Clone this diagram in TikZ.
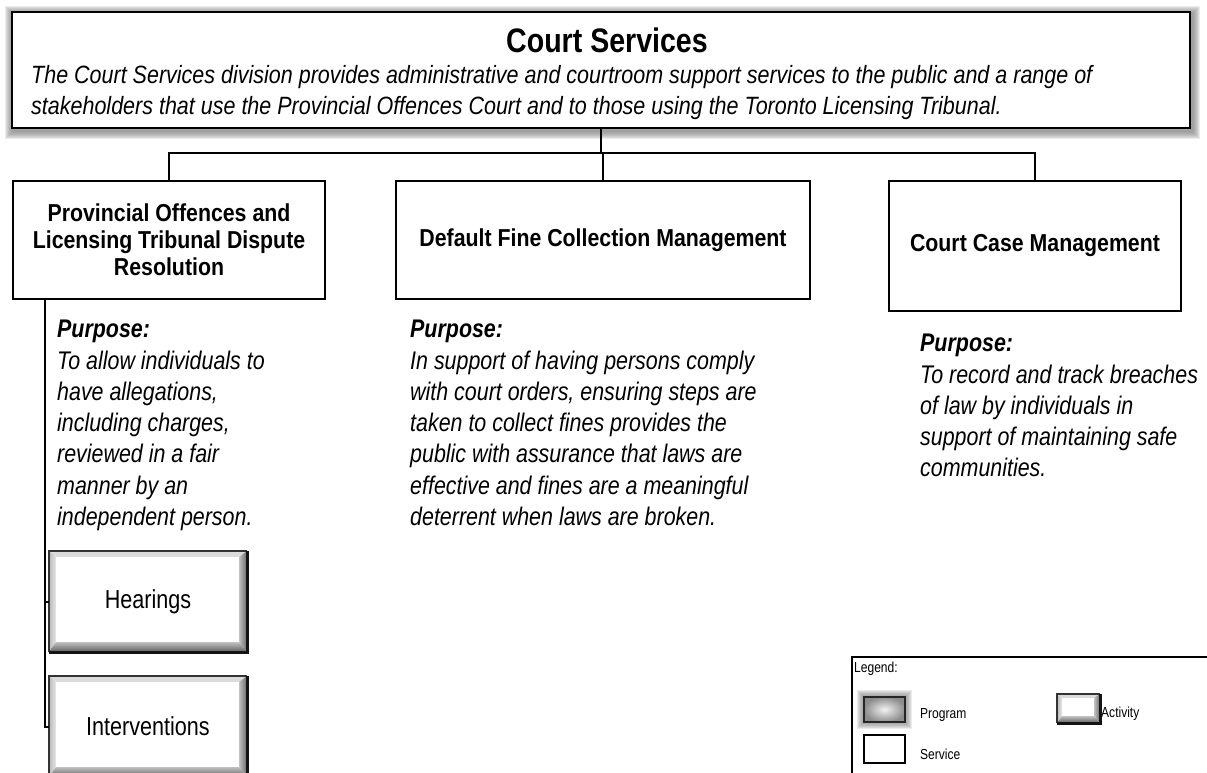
\documentclass[tikz,border=0pt]{standalone}
\usepackage{fontspec}
\setmainfont{Liberation Sans}
\newfontfamily\nar[FakeStretch=0.83]{Liberation Sans}
\newfontfamily\nard[FakeStretch=0.86]{Liberation Sans}
\newfontfamily\narp[FakeStretch=0.84]{Liberation Sans}
\newfontfamily\boxf[FakeStretch=0.87]{Liberation Sans}
\newfontfamily\titf[FakeStretch=0.84]{Liberation Sans}
\usetikzlibrary{calc}
% #1 node, #2 top inset, #3 left, #4 bottom, #5 right
\newcommand\bevelbox[5]{%
  \fill[black!14] (#1.north west) -- (#1.north east) -- ($(#1.north east)+(-#5,#2)$) -- ($(#1.north west)+(#3,#2)$) -- cycle;
  \shade[left color=black!28, right color=black!10] (#1.north west) -- ($(#1.north west)+(#3,#2)$) -- ($(#1.south west)+(#3,-#4)$) -- (#1.south west) -- cycle;
  \shade[top color=black!25, bottom color=black!64] (#1.south west) -- ($(#1.south west)+(#3,-#4)$) -- ($(#1.south east)+(-#5,-#4)$) -- (#1.south east) -- cycle;
  \shade[left color=black!25, right color=black!60] (#1.north east) -- ($(#1.north east)+(-#5,#2)$) -- ($(#1.south east)+(-#5,-#4)$) -- (#1.south east) -- cycle;
  \draw[line width=2.2pt, black!80] (#1.south west) -- (#1.north west) -- (#1.north east);
  \draw[line width=3pt, black!92] (#1.north east) -- (#1.south east) -- (#1.south west);
}
\begin{document}
\begin{tikzpicture}[x=1pt,y=-1pt,
  every node/.style={inner sep=0pt},
  servicebox/.style={draw, line width=2pt, fill=white, align=center,
    font=\boxf\bfseries\fontsize{24.5}{27}\selectfont},
  actbox/.style={minimum width=198pt, minimum height=101pt, fill=white,
    font=\nar\fontsize{26}{28}\selectfont},
  purpose/.style={align=left, anchor=north west,
    font=\narp\itshape\fontsize{25.5}{31.3}\selectfont},
  conn/.style={line width=2pt},
  legtext/.style={anchor=west, font=\nar\fontsize{14.5}{16}\selectfont}]
\useasboundingbox (0,0) rectangle (1207,772);

% top program box with glow (shifted down-right)
\node[minimum width=1178pt, minimum height=116pt] (top) at (601,70) {};
\foreach \k in {1,...,8}
  \draw[gray, opacity=0.16, line width=2*\k pt]
    ($(top.north west)+(1.5,2.5)$) rectangle ($(top.south east)+(1.5,2.5)$);
\fill[white] (top.north west) rectangle (top.south east);
\draw[line width=2.2pt] (top.north west) rectangle (top.south east);
\node[font=\titf\bfseries\fontsize{34}{36}\selectfont] (title) at (607,40) {Court Services};
\node[anchor=north west, align=left, font=\nard\itshape\fontsize{25}{31}\selectfont] (desc) at (31,65)
  {The Court Services division provides administrative and courtroom support services to the public and a range of\\
   stakeholders that use the Provincial Offences Court and to those using the Toronto Licensing Tribunal.};

% services
\node[servicebox, minimum width=312pt, minimum height=118pt] (b1) at (169,240)
  {Provincial Offences and\\Licensing Tribunal Dispute\\Resolution};
\node[servicebox, minimum width=414pt, minimum height=118pt] (b2) at (603,240)
  {Default Fine Collection Management};
\node[servicebox, minimum width=292pt, minimum height=130pt] (b3) at (1035,246)
  {Court Case Management};

\coordinate (bus) at (601,153);
\draw[conn] (top.south) -- (bus);
\draw[conn] (b1.north) |- (bus) -| (b3.north);
\draw[conn] (b2.north) -- (b2.north |- bus);

% purposes
\node[purpose] (p1) at (57,320) {{\bfseries Purpose:}\\To allow individuals to\\have allegations,\\including charges,\\reviewed in a fair\\manner by an\\independent person.};
\node[purpose] (p2) at (410,320) {{\bfseries Purpose:}\\In support of having persons comply\\with court orders, ensuring steps are\\taken to collect fines provides the\\public with assurance that laws are\\effective and fines are a meaningful\\deterrent when laws are broken.};
\node[purpose] (p3) at (920,334) {{\bfseries Purpose:}\\To record and track breaches\\of law by individuals in\\support of maintaining safe\\communities.};

% activities
\node[actbox] (h) at (148,601.5) {Hearings};
\node[actbox] (iv) at (148,726.5) {Interventions};
\bevelbox{h}{6}{7}{10}{8}
\bevelbox{iv}{6}{7}{10}{8}
\coordinate (stem) at (45,299);
\draw[conn] (stem) |- (h.west);
\draw[conn] (stem) |- (iv.west);

% legend
\draw[line width=1.2pt] (852,775) -- (852,657) -- (1210,657);
\node[legtext] (lg) at (854,669) {Legend:};
\node[minimum width=41pt, minimum height=25pt] (prog) at (884.5,709.5) {};
\foreach \k in {1,...,7}
  \draw[gray, opacity=0.16, line width=2*\k pt] (prog.north west) rectangle (prog.south east);
\shade[inner color=black!5, outer color=black!45] (prog.north west) rectangle (prog.south east);
\draw[line width=1.6pt, black!85] (prog.north west) rectangle (prog.south east);
\node[legtext] (lprog) at (920,715) {Program};
\node[draw, line width=1.5pt, minimum width=41pt, minimum height=28pt] (serv) at (884.5,749) {};
\node[legtext] (lserv) at (920,754) {Service};
\node[minimum width=43pt, minimum height=29pt, fill=white] (act) at (1078.5,708.5) {};
\bevelbox{act}{4}{5}{7}{6}
\node[legtext] (lact) at (1101,714) {Activity};
\end{tikzpicture}
\end{document}
